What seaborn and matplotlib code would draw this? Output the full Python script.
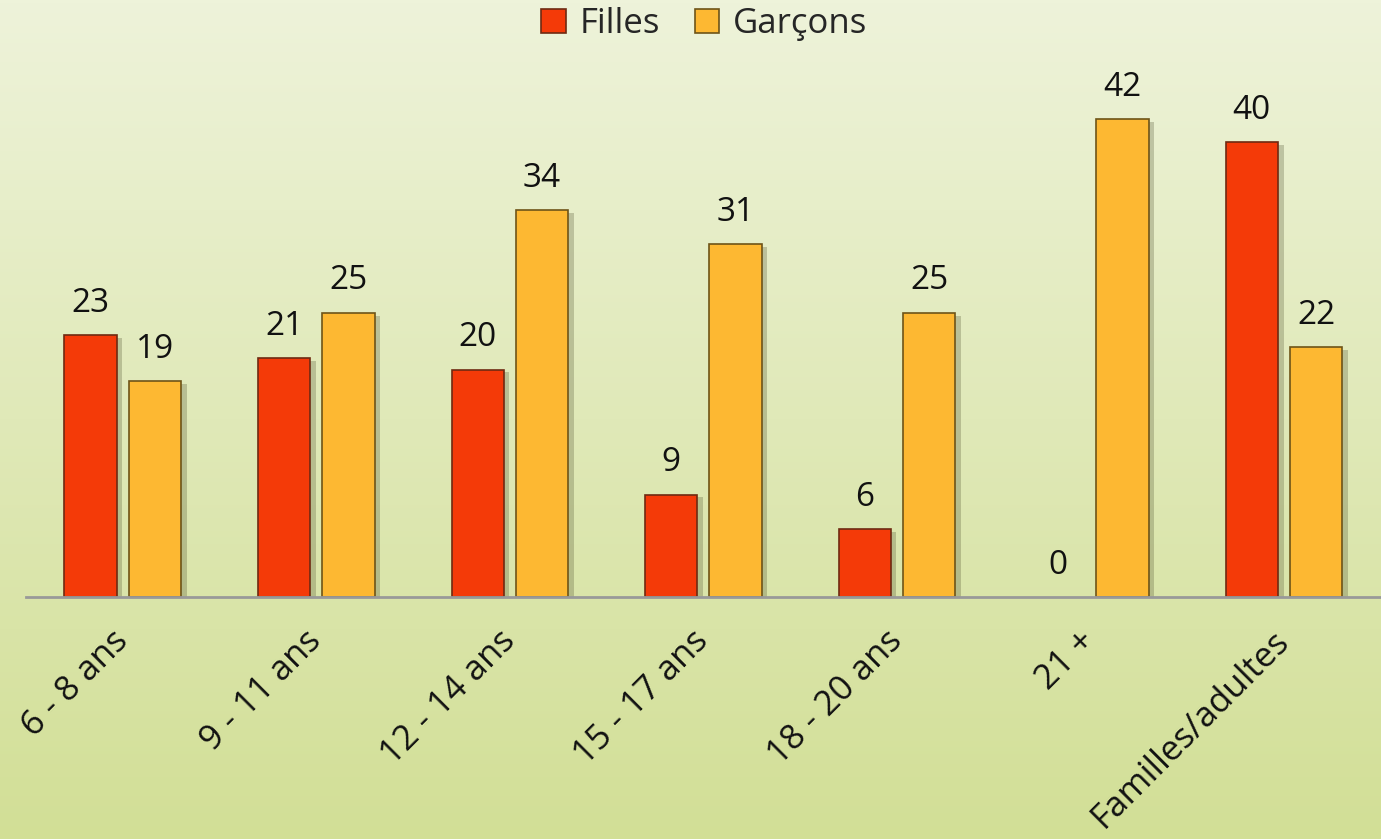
import numpy as np
import pandas as pd
import matplotlib.pyplot as plt
import matplotlib.patheffects as pe
from matplotlib.colors import LinearSegmentedColormap
import seaborn as sns

# donnees du graphique
categories = ['6 - 8 ans', '9 - 11 ans', '12 - 14 ans', '15 - 17 ans',
              '18 - 20 ans', '21 +', 'Familles/adultes']
filles = [23, 21, 20, 9, 6, 0, 40]
garcons = [19, 25, 34, 31, 25, 42, 22]
groupes = ['Filles', 'Garçons']
couleurs = ['#f43a08', '#fdb832']
bords = ['#6e2a12', '#6e5418']

df = pd.DataFrame({
    'categorie': categories * 2,
    'valeur': filles + garcons,
    'groupe': [groupes[0]] * len(categories) + [groupes[1]] * len(categories),
})

sns.set_theme(style='white')
plt.rcParams['font.family'] = ['Open Sans', 'DejaVu Sans']

fig = plt.figure(figsize=(13.81, 8.39), dpi=100)

# fond en degrade vert clair
bg = fig.add_axes([0, 0, 1, 1], zorder=-10)
grad = np.linspace(0, 1, 256).reshape(-1, 1)
cmap_bg = LinearSegmentedColormap.from_list('bg', ['#eef3da', '#d2df96'])
bg.imshow(grad, aspect='auto', cmap=cmap_bg, extent=[0, 1, 0, 1])
bg.set_axis_off()

ax = fig.add_axes([0.0188, 0.2884, 0.981, 0.7116])
ax.patch.set_alpha(0)

sns.barplot(data=df, x='categorie', y='valeur', hue='groupe',
            palette=couleurs, saturation=1, width=0.664, gap=0.187, ax=ax,
            edgecolor='#5a3010', linewidth=1.2, legend=True)

for cont, bc in zip(ax.containers, bords):
    for p in cont:
        p.set_edgecolor(bc)
        if p.get_height() == 0:
            p.set_linewidth(0)
            continue
        p.set_path_effects([pe.SimplePatchShadow(offset=(4, -2), alpha=0.25,
                                                 shadow_rgbFace='#404020'),
                            pe.Normal()])
    ax.bar_label(cont, fmt='%d', padding=11, fontsize=24, color='#111111')

ax.set_xlim(-0.5, 6.5)
ax.set_ylim(0, 52.5)
ax.set_xlabel('')
ax.set_ylabel('')
ax.set_yticks([])
for s in ['top', 'right', 'left']:
    ax.spines[s].set_visible(False)
ax.spines['bottom'].set_color('#999999')
ax.spines['bottom'].set_linewidth(2)
ax.tick_params(axis='x', length=0, pad=28, labelsize=25)
plt.setp(ax.get_xticklabels(), rotation=45, ha='right', va='center',
         rotation_mode='anchor', color='#111111')

leg = ax.legend(loc='upper center', bbox_to_anchor=(0.51, 1.008),
                bbox_transform=fig.transFigure, ncol=2, frameon=False,
                fontsize=25, handlelength=0.7, handleheight=0.7,
                columnspacing=1.0, handletextpad=0.4, borderaxespad=0.0)
for h, bc in zip(leg.legend_handles, bords):
    h.set_edgecolor(bc)

fig.savefig('out.png', dpi=100)
